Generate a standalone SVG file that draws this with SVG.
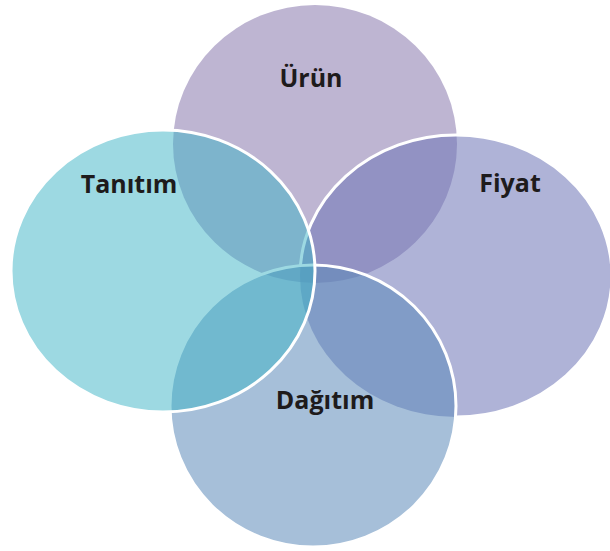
<svg xmlns="http://www.w3.org/2000/svg" width="610" height="551" viewBox="0 0 610 551">
<style>
.lbl{font-family:"Open Sans","Noto Sans","Liberation Sans",sans-serif;font-weight:bold;font-size:25px;fill:#1e1b1c;text-anchor:middle}
.edge{stroke:#ffffff;stroke-width:3;fill:none}
</style>
<defs>
<mask id="notD" maskUnits="userSpaceOnUse" x="0" y="0" width="610" height="551">
<rect x="0" y="0" width="610" height="551" fill="#fff"/>
<ellipse cx="313" cy="406" rx="143" ry="141" fill="#000"/>
</mask>
</defs>
<g id="urun">
<ellipse cx="315" cy="144" rx="142" ry="139" fill="#beb5d2"/>
<text class="lbl" x="311" y="87">Ürün</text>
</g>
<g id="fiyat">
<ellipse cx="456" cy="276" rx="156" ry="141" fill="#6d75b6" fill-opacity="0.55"/>
<ellipse class="edge" cx="456" cy="276" rx="156" ry="141" mask="url(#notD)"/>
<text class="lbl" x="510" y="192">Fiyat</text>
</g>
<g id="dagitim">
<ellipse cx="313" cy="406" rx="143" ry="141" fill="#5b89b9" fill-opacity="0.54"/>
<ellipse class="edge" cx="313" cy="406" rx="143" ry="141"/>
<text class="lbl" x="325" y="409">Dağıtım</text>
</g>
<g id="tanitim">
<ellipse cx="163" cy="271" rx="152" ry="141" fill="#3bb3c5" fill-opacity="0.5"/>
<ellipse class="edge" cx="163" cy="271" rx="152" ry="141"/>
<text class="lbl" x="129" y="193">Tanıtım</text>
</g>
<g id="connectors"/>
</svg>
